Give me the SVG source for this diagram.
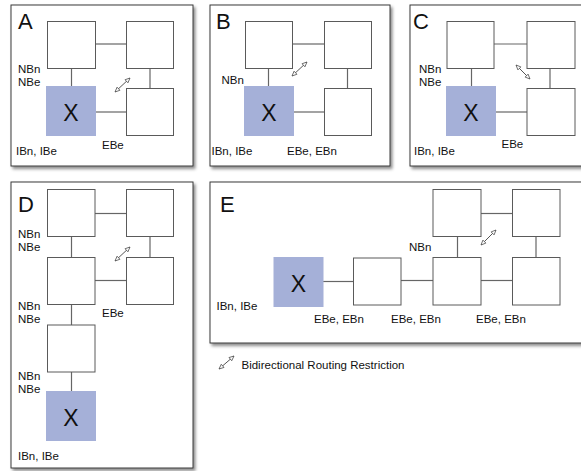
<svg xmlns="http://www.w3.org/2000/svg" width="581" height="471" viewBox="0 0 581 471">
  <style>
    .frame { fill: #ffffff; stroke: #3a3a3a; stroke-width: 1; filter: url(#shadow); }
    .node { fill: #ffffff; stroke: #5a5a5a; stroke-width: 1; }
    .x { fill: #a5b0d8; stroke: none; }
    .link { stroke: #666666; stroke-width: 1.2; fill: none; }
    .restrict { stroke: #555555; stroke-width: 1; fill: none; marker-start: url(#head); marker-end: url(#head); }
    text { font-family: "Liberation Sans", Arial, sans-serif; fill: #111111; }
    .panel { font-size: 22px; }
    .xl { font-size: 23px; text-anchor: middle; }
    .lbl { font-size: 11.5px; }
  </style>
  <defs>
    <filter id="shadow" x="-5%" y="-5%" width="115%" height="115%">
      <feDropShadow dx="2" dy="2.5" stdDeviation="1.5" flood-color="#000000" flood-opacity="0.45"/>
    </filter>
    <marker id="head" viewBox="0 0 10 10" refX="9" refY="5" markerWidth="6" markerHeight="6" orient="auto-start-reverse" markerUnits="userSpaceOnUse">
      <path d="M1,1.5 L9,5 L1,8.5 Z" fill="#ffffff" stroke="#444444" stroke-width="1.2"/>
    </marker>
  </defs>

  <!-- panel frames -->
  <g id="frames">
    <rect class="frame" x="11" y="5" width="182" height="161"/>
    <rect class="frame" x="210" y="5" width="180" height="161"/>
    <rect class="frame" x="410" y="5" width="200" height="161"/>
    <rect class="frame" x="11" y="182" width="182" height="286"/>
    <rect class="frame" x="210" y="182" width="400" height="161"/>
  </g>

  <!-- connectors -->
  <g id="connectors">
    <!-- A -->
    <line class="link" x1="95" y1="44" x2="126" y2="44"/>
    <line class="link" x1="71.5" y1="68" x2="71.5" y2="86"/>
    <line class="link" x1="150" y1="68" x2="150" y2="88"/>
    <line class="link" x1="96" y1="112" x2="126" y2="112"/>
    <line class="restrict" x1="115" y1="92" x2="130" y2="78"/>
    <!-- B -->
    <line class="link" x1="293" y1="44" x2="324" y2="44"/>
    <line class="link" x1="268.5" y1="68" x2="268.5" y2="86"/>
    <line class="link" x1="347.5" y1="68" x2="347.5" y2="88"/>
    <line class="link" x1="294" y1="112" x2="324" y2="112"/>
    <line class="restrict" x1="292" y1="76" x2="307" y2="62"/>
    <!-- C -->
    <line class="link" x1="494" y1="44" x2="527" y2="44"/>
    <line class="link" x1="471.5" y1="68" x2="471.5" y2="86"/>
    <line class="link" x1="550" y1="68" x2="550" y2="88"/>
    <line class="link" x1="496" y1="112" x2="527" y2="112"/>
    <line class="restrict" x1="516" y1="65" x2="530" y2="79"/>
    <!-- D -->
    <line class="link" x1="95" y1="213.5" x2="126" y2="213.5"/>
    <line class="link" x1="71.5" y1="237" x2="71.5" y2="257"/>
    <line class="link" x1="150" y1="237" x2="150" y2="257"/>
    <line class="link" x1="95" y1="280.5" x2="126" y2="280.5"/>
    <line class="link" x1="71.5" y1="304" x2="71.5" y2="325"/>
    <line class="link" x1="71.5" y1="372" x2="71.5" y2="391"/>
    <line class="restrict" x1="115" y1="261" x2="130" y2="247"/>
    <!-- E -->
    <line class="link" x1="481" y1="213.5" x2="512" y2="213.5"/>
    <line class="link" x1="457.5" y1="237" x2="457.5" y2="257"/>
    <line class="link" x1="536" y1="237" x2="536" y2="257"/>
    <line class="link" x1="323" y1="281.5" x2="353" y2="281.5"/>
    <line class="link" x1="401" y1="280.5" x2="433" y2="280.5"/>
    <line class="link" x1="481" y1="280.5" x2="512" y2="280.5"/>
    <line class="restrict" x1="481" y1="245" x2="496" y2="230"/>
    <!-- legend symbol -->
    <line class="restrict" x1="219" y1="369" x2="234" y2="356"/>
  </g>

  <!-- panel A -->
  <g id="panel-a">
    <text class="panel" x="18" y="29">A</text>
    <rect class="node" x="47.5" y="21.5" width="48" height="47"/>
    <rect class="node" x="126.5" y="21.5" width="47" height="47"/>
    <rect class="x" x="46" y="86" width="50" height="50"/>
    <text class="xl" x="71" y="120.5">X</text>
    <rect class="node" x="126.5" y="88.5" width="47" height="47"/>
    <text class="lbl" x="18" y="73">NBn</text>
    <text class="lbl" x="18" y="85.5">NBe</text>
    <text class="lbl" x="16" y="155">IBn, IBe</text>
    <text class="lbl" x="102" y="149">EBe</text>
  </g>

  <!-- panel B -->
  <g id="panel-b">
    <text class="panel" x="216" y="29">B</text>
    <rect class="node" x="245.5" y="21.5" width="47" height="47"/>
    <rect class="node" x="324.5" y="21.5" width="47" height="47"/>
    <rect class="x" x="244" y="86" width="50" height="50"/>
    <text class="xl" x="269" y="120.5">X</text>
    <rect class="node" x="324.5" y="88.5" width="47" height="47"/>
    <text class="lbl" x="221.5" y="83.5">NBn</text>
    <text class="lbl" x="211.5" y="155">IBn, IBe</text>
    <text class="lbl" x="287" y="155">EBe, EBn</text>
  </g>

  <!-- panel C -->
  <g id="panel-c">
    <text class="panel" x="413" y="29">C</text>
    <rect class="node" x="447" y="21.5" width="47" height="47"/>
    <rect class="node" x="527" y="21.5" width="48" height="47"/>
    <rect class="x" x="446" y="86" width="50" height="50"/>
    <text class="xl" x="471" y="120.5">X</text>
    <rect class="node" x="527" y="88.5" width="48" height="47"/>
    <text class="lbl" x="419" y="73">NBn</text>
    <text class="lbl" x="419" y="85.5">NBe</text>
    <text class="lbl" x="414" y="155">IBn, IBe</text>
    <text class="lbl" x="501.5" y="148">EBe</text>
  </g>

  <!-- panel D -->
  <g id="panel-d">
    <text class="panel" x="18" y="212">D</text>
    <rect class="node" x="47.5" y="189.5" width="47.5" height="47"/>
    <rect class="node" x="126.5" y="189.5" width="47" height="47"/>
    <rect class="node" x="47.5" y="257.5" width="47.5" height="47"/>
    <rect class="node" x="126.5" y="257.5" width="47" height="47"/>
    <rect class="node" x="47.5" y="325" width="47.5" height="47"/>
    <rect class="x" x="46" y="391" width="50" height="50"/>
    <text class="xl" x="71" y="425.5">X</text>
    <text class="lbl" x="18" y="238">NBn</text>
    <text class="lbl" x="18" y="250.5">NBe</text>
    <text class="lbl" x="18" y="310">NBn</text>
    <text class="lbl" x="18" y="323">NBe</text>
    <text class="lbl" x="18" y="380">NBn</text>
    <text class="lbl" x="18" y="393">NBe</text>
    <text class="lbl" x="18" y="460">IBn, IBe</text>
    <text class="lbl" x="102" y="317">EBe</text>
  </g>

  <!-- panel E -->
  <g id="panel-e">
    <text class="panel" x="220" y="212">E</text>
    <rect class="node" x="433" y="189.5" width="48" height="47"/>
    <rect class="node" x="512.5" y="189.5" width="47.5" height="47"/>
    <rect class="x" x="273.5" y="257" width="50" height="50"/>
    <text class="xl" x="298.5" y="291.5">X</text>
    <rect class="node" x="353.5" y="258" width="47.5" height="47"/>
    <rect class="node" x="433" y="257.5" width="48" height="47.5"/>
    <rect class="node" x="512.5" y="257.5" width="47.5" height="47.5"/>
    <text class="lbl" x="409" y="251">NBn</text>
    <text class="lbl" x="216.5" y="310">IBn, IBe</text>
    <text class="lbl" x="314" y="323">EBe, EBn</text>
    <text class="lbl" x="391" y="323">EBe, EBn</text>
    <text class="lbl" x="476" y="323">EBe, EBn</text>
  </g>

  <!-- legend -->
  <g id="legend">
    <text class="lbl" x="241.5" y="368.5">Bidirectional Routing Restriction</text>
  </g>
</svg>
